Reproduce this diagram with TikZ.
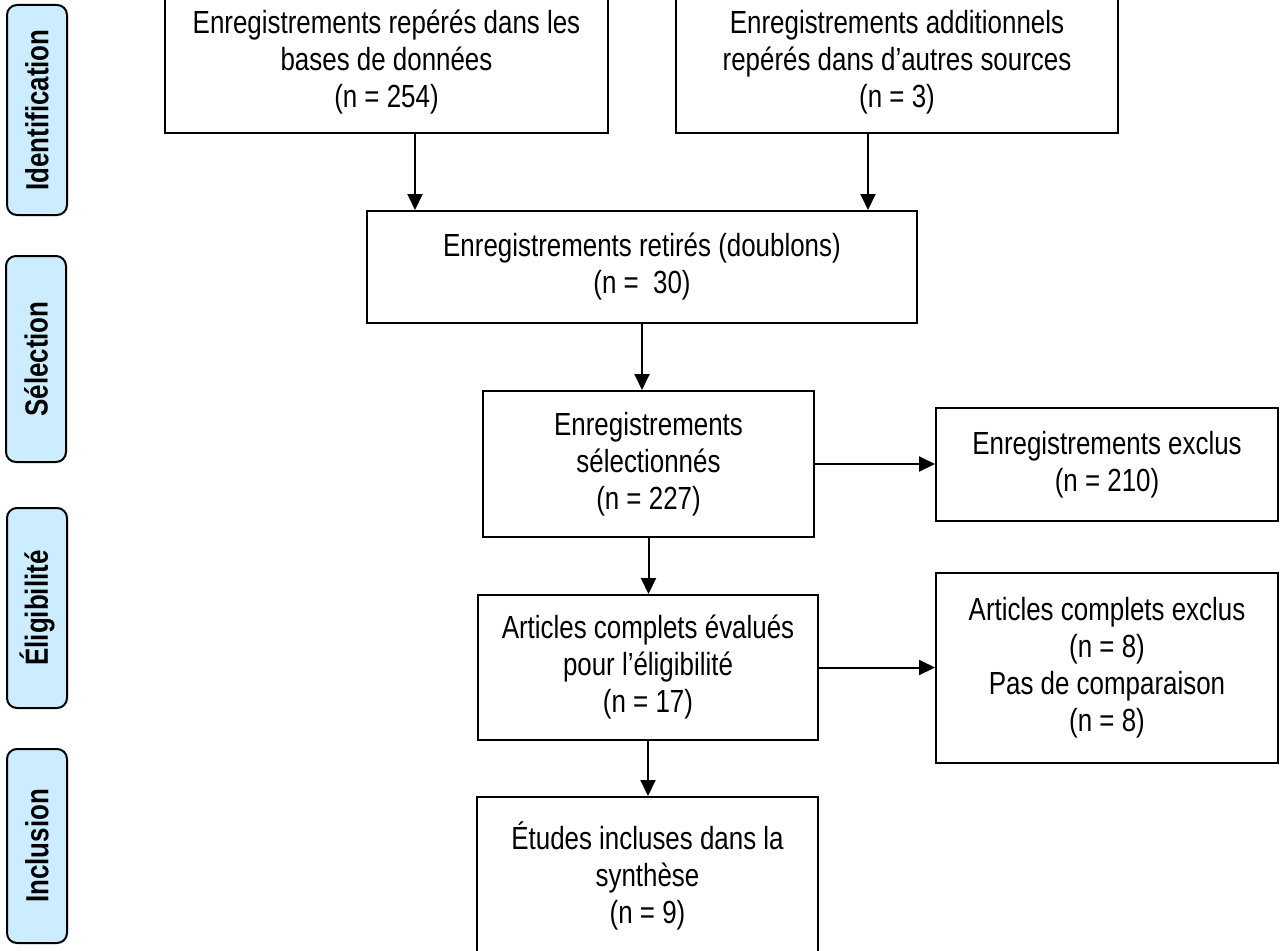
\documentclass[tikz,border=0pt]{standalone}
\usepackage{fontspec}
\setmainfont{Liberation Sans}[FakeStretch=0.81]
\usetikzlibrary{arrows.meta}
\definecolor{stageblue}{RGB}{204,236,255}

\begin{document}
\begin{tikzpicture}[x=1pt,y=-1pt,
    box/.style={draw,line width=2pt,align=center,inner sep=0pt,font=\fontsize{32}{37}\selectfont},
    stage/.style={draw,line width=2pt,fill=stageblue,rounded corners=10pt,rotate=90,minimum height=60pt,inner sep=0pt,font=\fontsize{32}{36}\selectfont\bfseries},
    arr/.style={line width=2pt,-{Triangle[length=16pt,width=15pt]}}]

\useasboundingbox (0,0) rectangle (1281,950);
\clip (0,0) rectangle (1281,950);

% Stages on the left
\node[stage,minimum width=210pt] (ident) at (37,110) {Identification};
\node[stage,minimum width=206pt] (sel) at (36,359) {Sélection};
\node[stage,minimum width=200pt] (elig) at (37,608) {Éligibilité};
\node[stage,minimum width=194pt] (incl) at (37,846) {Inclusion};

% Flow boxes
\node[box,minimum width=443pt,minimum height=142pt] (db) at (386.5,62) {Enregistrements repérés dans les\\bases de données\\(n = 254)};
\node[box,minimum width=442pt,minimum height=142pt] (other) at (897,62) {Enregistrements additionnels\\repérés dans d’autres sources\\(n = 3)};
\node[box,minimum width=550pt,minimum height=112pt] (dup) at (642,267) {Enregistrements retirés (doublons)\\(n = \ 30)};
\node[box,minimum width=331pt,minimum height=146pt] (screen) at (648.5,464) {Enregistrements\\sélectionnés\\(n = 227)};
\node[box,minimum width=342pt,minimum height=113pt] (excl) at (1107,464.5) {Enregistrements exclus\\(n = 210)};
\node[box,minimum width=340pt,minimum height=145pt] (full) at (648,667.5) {Articles complets évalués\\pour l’éligibilité\\(n = 17)};
\node[box,minimum width=342pt,minimum height=190pt] (fexcl) at (1107,668) {Articles complets exclus\\(n = 8)\\Pas de comparaison\\(n = 8)};
\node[box,minimum width=341pt,minimum height=158pt] (synth) at (647.5,876) {Études incluses dans la\\synthèse\\(n = 9)};

% Arrows
\draw[arr] ([xshift=28.5pt]db.south) -- ([xshift=28.5pt]db.south |- dup.north);
\draw[arr] ([xshift=-29pt]other.south) -- ([xshift=-29pt]other.south |- dup.north);
\draw[arr] (dup.south) -- (dup.south |- screen.north);
\draw[arr] (screen.east) -- (screen.east -| excl.west);
\draw[arr] (screen.south) -- (screen.south |- full.north);
\draw[arr] (full.east) -- (full.east -| fexcl.west);
\draw[arr] (full.south) -- (full.south |- synth.north);

\end{tikzpicture}
\end{document}
